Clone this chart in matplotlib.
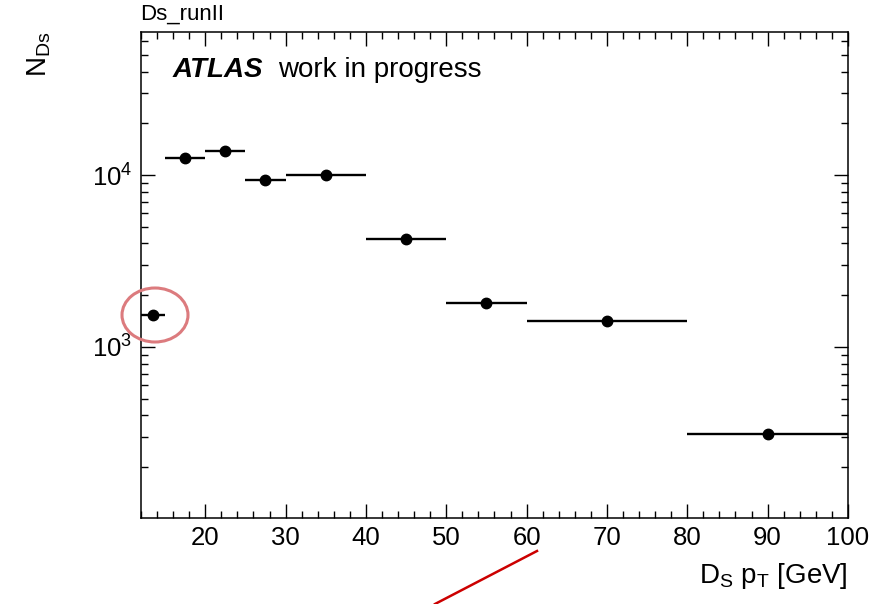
import numpy as np
import matplotlib
matplotlib.use('Agg')
import matplotlib.pyplot as plt
from matplotlib.patches import Ellipse
from matplotlib.lines import Line2D
from matplotlib.ticker import MultipleLocator, LogLocator, NullFormatter

# Data (pT bins in GeV)
bin_lo = [12, 15, 20, 25, 30, 40, 50, 60, 80]
bin_hi = [15, 20, 25, 30, 40, 50, 60, 80, 100]
bin_centre = [13.5, 17.5, 22.5, 27.5, 35, 45, 55, 70, 90]
n_ds = [1535, 12500, 13800, 9400, 9950, 4250, 1800, 1420, 312]
n_err = [40, 110, 120, 95, 100, 65, 42, 38, 22]

plt.rcParams['font.family'] = ['Liberation Sans', 'DejaVu Sans']
plt.rcParams['mathtext.fontset'] = 'custom'
plt.rcParams['mathtext.rm'] = 'Liberation Sans'
plt.rcParams['mathtext.it'] = 'Liberation Sans:italic'
plt.rcParams['mathtext.bf'] = 'Liberation Sans:bold'

fig = plt.figure(figsize=(8.81, 6.04), dpi=100)
ax = fig.add_axes([0.160, 0.1424, 0.8025, 0.8046])

xerr_lo = [c - lo for c, lo in zip(bin_centre, bin_lo)]
xerr_hi = [hi - c for c, hi in zip(bin_centre, bin_hi)]
ax.errorbar(bin_centre, n_ds, xerr=[xerr_lo, xerr_hi], yerr=n_err,
            fmt='o', color='black', markersize=7.5, elinewidth=1.7,
            capsize=0)

ax.set_yscale('log')
ax.set_xlim(12, 100)
ax.set_ylim(101, 68000)

# ROOT style ticks
ax.xaxis.set_major_locator(MultipleLocator(10))
ax.xaxis.set_minor_locator(MultipleLocator(2))
ax.yaxis.set_major_locator(LogLocator(base=10))
ax.yaxis.set_minor_locator(LogLocator(base=10, subs=np.arange(2, 10)))
ax.yaxis.set_minor_formatter(NullFormatter())
ax.tick_params(which='both', direction='in', top=True, right=True,
               labelsize=18.5, width=1)
ax.tick_params(which='major', length=10, pad=6)
ax.tick_params(which='minor', length=5)
for s in ax.spines.values():
    s.set_linewidth(1.1)

ax.set_xlabel(r'$\mathrm{D_S\ p_T}$ [GeV]', fontsize=20, loc='right',
              labelpad=8)
ax.set_ylabel(r'$\mathrm{N_{Ds}}$', fontsize=20, loc='top', labelpad=28)

fig.text(0.159, 0.977, 'Ds_runII', fontsize=16, ha='left', va='center')

ax.text(0.045, 0.922, 'ATLAS', transform=ax.transAxes, fontsize=20,
        fontweight='bold', fontstyle='italic', va='center')
ax.text(0.194, 0.922, 'work in progress', transform=ax.transAxes,
        fontsize=20, va='center')

# red annotation marks
fig.patches.append(Ellipse((155 / 881, 1 - 315 / 604), 66 / 881, 54 / 604,
                           transform=fig.transFigure, fill=False,
                           edgecolor='#dc7b7e', linewidth=2.2))
fig.lines.append(Line2D([435 / 881, 537 / 881], [0.0, 1 - 551 / 604],
                        transform=fig.transFigure, color='#cc0000',
                        linewidth=1.8))

fig.savefig('out.png', dpi=100)
